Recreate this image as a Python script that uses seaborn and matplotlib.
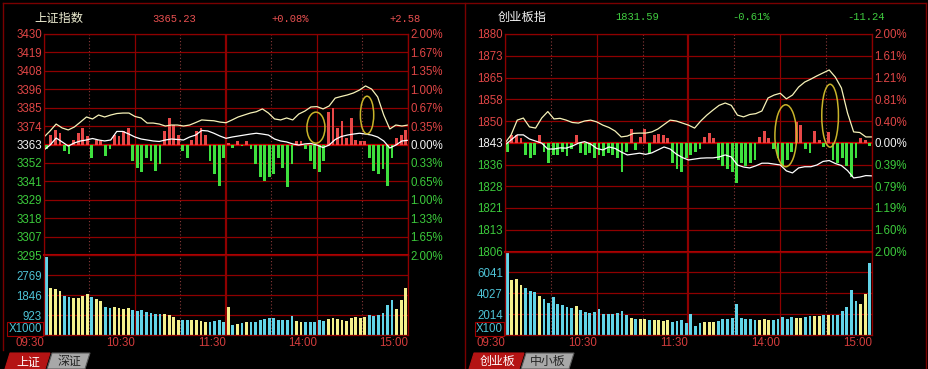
import numpy as np
import matplotlib
matplotlib.use("Agg")
import matplotlib.pyplot as plt
from matplotlib.patches import Ellipse, Polygon
import seaborn as sns

W, H, DPI = 929, 369, 100

# ------------------------------------------------------------------ data
time_ticks = [0, 60, 120, 180, 240]
time_minor = [30, 90, 150, 210]
time_labels = ["09:30", "10:30", "11:30", "14:00", "15:00"]
line_minutes = np.arange(61) * 4          # one point every 4 minutes
bar_minutes = np.arange(80) * 3 + 1.5     # one bar every 3 minutes

# 上证指数
sh_name = "上证指数"
sh_prev_close = 3362.65
sh_last, sh_pct, sh_chg = "3365.23", "+0.08%", "+2.58"
sh_white = [3359.3, 3362.3, 3366.6, 3364.2, 3361.7, 3363.6, 3364.8, 3365.4, 3366.3, 3365.4,
            3364.8, 3365.4, 3370.6, 3370.6, 3369.0, 3367.2, 3366.0, 3365.4, 3364.8, 3364.5,
            3365.4, 3366.0, 3365.7, 3365.4, 3367.2, 3368.4, 3371.2, 3370.9, 3369.5, 3367.8,
            3366.4, 3367.2, 3367.8, 3368.4, 3369.0, 3369.5, 3369.0, 3368.4, 3366.0, 3364.8,
            3364.2, 3363.0, 3362.3, 3363.0, 3363.3, 3362.3, 3360.8, 3362.3, 3365.7, 3367.5,
            3368.4, 3369.0, 3369.5, 3369.0, 3368.4, 3367.2, 3364.8, 3360.5, 3362.3, 3364.8,
            3365.2]
sh_yellow = [3367.2, 3370.9, 3375.1, 3372.7, 3371.5, 3373.3, 3376.3, 3379.4, 3378.2, 3380.6,
             3379.4, 3380.6, 3381.5, 3381.8, 3381.8, 3379.7, 3378.8, 3375.7, 3375.7, 3375.1,
             3373.9, 3374.5, 3374.5, 3373.9, 3374.5, 3376.0, 3377.6, 3377.3, 3377.1, 3376.3,
             3375.9, 3377.6, 3379.4, 3380.6, 3381.8, 3382.6, 3384.3, 3381.8, 3378.2, 3377.6,
             3378.8, 3377.6, 3381.2, 3383.0, 3385.5, 3385.7, 3384.3, 3386.1, 3390.9, 3391.9,
             3392.8, 3394.0, 3395.8, 3398.3, 3396.4, 3391.6, 3380.6, 3372.1, 3374.5, 3373.9,
             3374.5]
sh_power = [-3, 6, 9, 7, -4, -6, 3, 7, 10, 5,
            -8, 3, 2, -7, -3, 6, 5, 8, 10, -10,
            -14, -17, -8, -10, -16, -12, 8, 16, 12, 6,
            -4, -8, 3, 8, 10, 6, -10, -18, -25, -8,
            1, -2, 2, -1, 2, -3, -12, -20, -22, -20,
            -18, -8, -14, -26, -12, 2, 2, -3, -10, -15,
            -17, -10, 20, 22, 10, 14, 4, 16, 3, 2,
            2, -8, -16, -18, -15, -25, -8, 4, 6, 9]
sh_volume = [3600, 2150, 2100, 2050, 1800, 1750, 1700, 1720, 1800, 1880,
             1750, 1650, 1550, 1300, 1250, 1300, 1250, 1200, 1250, 1150,
             1100, 1150, 1050, 1000, 950, 980, 950, 900, 820, 700,
             680, 700, 680, 700, 650, 600, 620, 650, 680, 600,
             1300, 450, 500, 560, 600, 620, 600, 700, 760, 800,
             780, 700, 680, 700, 860, 650, 620, 600, 620, 580,
             700, 650, 720, 780, 740, 700, 650, 800, 820, 800,
             850, 900, 880, 920, 1000, 1400, 1600, 1200, 1600, 2150]
sh_price_labels = ["3430", "3419", "3408", "3396", "3385", "3374", "3363",
                   "3352", "3341", "3329", "3318", "3307", "3295"]
sh_pct_labels = ["2.00%", "1.67%", "1.35%", "1.00%", "0.67%", "0.35%", "0.00%",
                 "0.33%", "0.65%", "1.00%", "1.33%", "1.65%", "2.00%"]
sh_vol_ticks = [0, 923, 1846, 2769]
sh_vol_labels = ["X1000", "923", "1846", "2769"]
sh_vol_max = 3692
sh_marks = [(179.3, 3372.9, 11.9, 18.9), (213.0, 3380.6, 8.8, 22.9)]
sh_tabs = ["上证", "深证"]

# 创业板指
cyb_name = "创业板指"
cyb_prev_close = 1842.83
cyb_last, cyb_pct, cyb_chg = "1831.59", "-0.61%", "-11.24"
cyb_white = [1842.1, 1843.8, 1845.5, 1845.5, 1844.1, 1843.4, 1842.7, 1840.7, 1840.7, 1841.1,
             1841.0, 1841.7, 1842.7, 1843.2, 1842.4, 1840.9, 1840.4, 1841.4, 1840.9, 1839.7,
             1838.7, 1839.0, 1839.3, 1838.9, 1839.4, 1840.4, 1841.4, 1840.7, 1839.0, 1837.8,
             1837.0, 1837.3, 1837.6, 1837.7, 1837.7, 1838.0, 1838.7, 1838.0, 1835.3, 1834.6,
             1834.3, 1835.0, 1835.9, 1835.9, 1835.6, 1835.3, 1833.3, 1832.6, 1834.3, 1834.7,
             1834.7, 1835.3, 1836.5, 1836.8, 1835.8, 1835.1, 1833.4, 1830.9, 1831.2, 1831.7,
             1831.6]
cyb_yellow = [1842.7, 1845.5, 1850.5, 1851.2, 1848.2, 1847.8, 1851.2, 1853.4, 1850.9, 1851.1,
              1850.5, 1849.7, 1849.5, 1850.2, 1850.5, 1849.9, 1848.8, 1848.0, 1846.8, 1844.8,
              1845.1, 1846.0, 1846.1, 1846.1, 1846.5, 1847.5, 1849.0, 1850.5, 1850.2, 1849.5,
              1848.8, 1847.8, 1850.2, 1852.2, 1853.9, 1855.5, 1856.3, 1855.5, 1852.2, 1851.6,
              1852.4, 1852.7, 1853.6, 1858.0, 1859.0, 1859.6, 1857.7, 1859.0, 1861.7, 1863.4,
              1864.4, 1865.5, 1866.5, 1867.5, 1865.1, 1861.4, 1852.9, 1846.5, 1846.3, 1844.8,
              1844.8]
cyb_power = [-3, 2.5, 2.5, 1.5, -4, -5, -4, 2.5, -3, -7,
             -4, -4, -3, -4.5, -2, 2.5, -3.5, -4, -3.5, -5,
             -4, -4.5, -3.5, -4, -5, -10, -3, 4.5, -2.5, 2,
             4.5, -3.5, 2.5, 3, 2.5, 1.5, -7, -9, -10, -5,
             -4, -3, -2, 2, 3.3, 1.5, -6, -8, -9, -10,
             -13.5, -7, -8, -7, -6, 2, 4, 1.5, -2, -5,
             -8, -6, -3, 7, 6, -2, -3.5, 4, 1, -1.5,
             3.5, -6, -7, -5, -8, -11.5, -5, 1.5, 1, -1]
cyb_volume = [7900, 5300, 5400, 4800, 4500, 4200, 4100, 3800, 3500, 3100,
              3700, 3000, 2900, 2700, 2600, 2750, 2400, 2200, 2150, 2200,
              2500, 2050, 2000, 2000, 2100, 2350, 1900, 1600, 1500, 1500,
              1550, 1450, 1400, 1450, 1350, 1400, 1300, 1350, 1450, 1200,
              2000, 900, 1150, 1250, 1300, 1250, 1350, 1500, 1550, 1650,
              3000, 1600, 1550, 1500, 1400, 1450, 1500, 1400, 1450, 1500,
              1700, 1500, 1700, 1650, 1600, 1700, 1800, 1800, 1850, 1900,
              1950, 1900, 1950, 2300, 2700, 4300, 3300, 3000, 4000, 6900]
cyb_price_labels = ["1880", "1873", "1865", "1858", "1850", "1843",
                    "1836", "1828", "1821", "1813", "1806"]
cyb_pct_labels = ["2.00%", "1.61%", "1.21%", "0.81%", "0.40%", "0.00%",
                  "0.39%", "0.79%", "1.19%", "1.60%", "2.00%"]
cyb_vol_ticks = [0, 2014, 4027, 6041]
cyb_vol_labels = ["X100", "2014", "4027", "6041"]
cyb_vol_max = 8055
cyb_marks = [(183.6, 1845.2, 14.2, 21.0), (212.6, 1852.0, 10.9, 21.3)]
cyb_tabs = ["创业板", "中小板"]

# ------------------------------------------------------------------ style
GRID = "#8E0000"
ZERO = "#C00000"
DOT = "#8A3A3A"
FRAME = "#7A0000"
RED_T = "#E04646"
GREEN_T = "#3CCB3C"
CYAN_T = "#4EC3D6"
WHITE_T = "#F2F2F2"
BAR_RED = "#E84848"
BAR_GREEN = "#3EE03E"
VOL_CYAN = "#62D4E8"
VOL_YEL = "#F4F08C"
LINE_W = "#FFFFFF"
LINE_Y = "#F6F2B8"
MARK = "#C8B42A"
FS = 8.3

plt.rcParams['font.family'] = ['Liberation Sans', 'Noto Sans CJK SC', 'DejaVu Sans']

fig = plt.figure(figsize=(W / DPI, H / DPI), dpi=DPI, facecolor="black")
bg = fig.add_axes([0, 0, 1, 1])
bg.set_xlim(0, W)
bg.set_ylim(H, 0)
bg.axis("off")


def px_axes(x0, y0, x1, y1):
    a = fig.add_axes([x0 / W, 1 - y1 / H, (x1 - x0) / W, (y1 - y0) / H])
    a.set_facecolor("none")
    return a


def style_axes(a):
    for s in a.spines.values():
        s.set_color(GRID)
        s.set_linewidth(0.9)
    a.set_axisbelow(True)
    a.set_xlim(0, 240)
    a.set_xticks(time_ticks)
    a.set_xticks(time_minor, minor=True)
    a.grid(True, which="major", axis="both", color=GRID, lw=0.9)
    a.grid(True, which="minor", axis="x", color=DOT, lw=0.8, ls=(0, (1, 2)))
    a.tick_params(which="both", length=0)
    a.set_xlabel("")
    a.set_ylabel("")
    for gl, t in zip(a.get_xgridlines(), time_ticks):
        if t == 120:
            gl.set_linewidth(1.6)


def draw_panel(box, prev, white, yellow, power, volume, price_labels, pct_labels,
               vol_ticks, vol_labels, vol_max, marks):
    x0, x1, yt, ys, yb = box
    n = (len(price_labels) - 1) // 2
    step = prev * 0.02 / n
    pticks = np.arange(-n, n + 1) * step
    colors = [GREEN_T] * n + [WHITE_T] + [RED_T] * n

    ax = px_axes(x0, yt, x1, ys)
    av = px_axes(x0, ys, x1, yb)

    power = np.asarray(power, dtype=float)
    key = np.where(power >= 0, "up", "down")
    sns.barplot(x=bar_minutes, y=power, hue=key, palette={"up": BAR_RED, "down": BAR_GREEN},
                native_scale=True, width=0.62, saturation=1, linewidth=0, errorbar=None,
                dodge=False, legend=False, ax=ax)
    sns.lineplot(x=line_minutes, y=np.asarray(yellow) - prev, color=LINE_Y, lw=0.9, ax=ax)
    sns.lineplot(x=line_minutes, y=np.asarray(white) - prev, color=LINE_W, lw=0.9, ax=ax)
    for m, p, w, h in marks:
        ax.add_patch(Ellipse((m, p - prev), w, h, fill=False, ec=MARK, lw=1.1, zorder=4))

    sns.barplot(x=bar_minutes, y=volume, hue=key, palette={"up": VOL_YEL, "down": VOL_CYAN},
                native_scale=True, width=0.62, saturation=1, linewidth=0, errorbar=None,
                dodge=False, legend=False, ax=av)

    style_axes(ax)
    style_axes(av)
    ax.set_ylim(pticks[0], pticks[-1])
    ax.set_yticks(pticks, labels=price_labels[::-1])
    ax.tick_params(axis="y", pad=1.5, labelsize=FS)
    ax.tick_params(axis="x", labelbottom=False)
    for lbl, c in zip(ax.get_yticklabels(), colors):
        lbl.set_color(c)
    zl = ax.get_ygridlines()[n]
    zl.set_color(ZERO)
    zl.set_linewidth(1.6)
    ax.spines["bottom"].set_color("#B00000")
    ax.spines["bottom"].set_linewidth(1.5)

    sec = ax.secondary_yaxis("right")
    sec.set_yticks(pticks, labels=pct_labels[::-1])
    sec.tick_params(length=0, pad=1.5, labelsize=FS)
    sec.spines["right"].set_color(GRID)
    for lbl, c in zip(sec.get_yticklabels(), colors):
        lbl.set_color(c)

    av.set_ylim(0, vol_max)
    av.set_yticks(vol_ticks, labels=vol_labels)
    av.tick_params(axis="y", pad=1.5, labelsize=FS, labelcolor=CYAN_T)
    unit = av.get_yticklabels()[0]
    unit.set_va("bottom")
    unit.set_bbox(dict(boxstyle="square,pad=0.12", fc="none", ec="#A00000", lw=0.8))
    av.set_xticks(time_ticks, labels=time_labels, ha="right")
    av.tick_params(axis="x", pad=1.5, labelsize=FS, labelcolor="#D23C3C")
    return ax, av


draw_panel((44, 408, 34, 255, 335), sh_prev_close, sh_white, sh_yellow, sh_power, sh_volume,
           sh_price_labels, sh_pct_labels, sh_vol_ticks, sh_vol_labels, sh_vol_max, sh_marks)
draw_panel((505, 872, 34, 251.5, 335), cyb_prev_close, cyb_white, cyb_yellow, cyb_power,
           cyb_volume, cyb_price_labels, cyb_pct_labels, cyb_vol_ticks, cyb_vol_labels,
           cyb_vol_max, cyb_marks)

# ------------------------------------------------------------------ frame & header
bg.plot([3, 926], [2.5, 2.5], color=FRAME, lw=1)
bg.plot([3, 3], [2.5, 350], color=FRAME, lw=1)
bg.plot([465, 465], [2.5, 369], color=FRAME, lw=1)
bg.plot([926, 926], [2.5, 369], color=FRAME, lw=1)

mono = "Liberation Mono"
cjk = ["Noto Sans CJK SC", "DejaVu Sans"]
bg.text(59, 18.5, sh_name, color="#EEEED2", fontsize=8.8, family=cjk, ha="center", va="center")
bg.text(174.5, 18.5, sh_last, color="#E85050", fontsize=7.6, family=mono, ha="center", va="center")
bg.text(290, 18.5, sh_pct, color="#E85050", fontsize=7.6, family=mono, ha="center", va="center")
bg.text(404.7, 18.5, sh_chg, color="#E85050", fontsize=7.6, family=mono, ha="center", va="center")
bg.text(521.7, 17.5, cyb_name, color="#F4F4F4", fontsize=8.8, family=cjk, ha="center", va="center")
bg.text(636.7, 17.5, cyb_last, color="#40CC40", fontsize=7.6, family=mono, ha="center", va="center")
bg.text(751.3, 17.5, cyb_pct, color="#40CC40", fontsize=7.6, family=mono, ha="center", va="center")
bg.text(866.3, 17.5, cyb_chg, color="#40CC40", fontsize=7.6, family=mono, ha="center", va="center")

# bottom tabs
def tab(xa, xb, label, active):
    pts = [(xa + 2, 353), (xb + 2, 353), (xb - 3, 369), (xa - 3, 369)]
    fc = "#B41414" if active else "#A8A8A8"
    bg.add_patch(Polygon(pts, closed=True, fc=fc, ec="#5A5A5A" if not active else "#B41414", lw=0.8))
    bg.text((xa + xb) / 2, 361.5, label, color="white" if active else "#262626",
            fontsize=8.6, family=cjk, ha="center", va="center")

tab(8, 48, sh_tabs[0], True)
tab(50, 88, sh_tabs[1], False)
tab(472, 522, cyb_tabs[0], True)
tab(524, 572, cyb_tabs[1], False)

fig.savefig("out.png", dpi=DPI, facecolor="black")
